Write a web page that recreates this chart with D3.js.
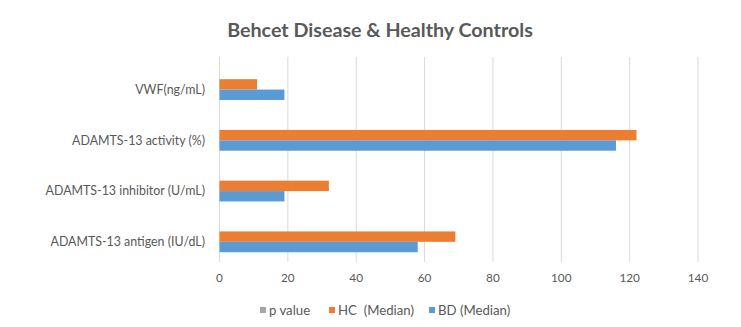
<!DOCTYPE html>
<html><head><meta charset="utf-8">
<script src="https://cdn.jsdelivr.net/npm/d3@7"></script>
<style>body{margin:0;background:#fff;} svg{display:block;} text{white-space:pre;}</style>
</head><body>
<svg id="c" width="741" height="327"></svg>
<script>
const categories = ["VWF(ng/mL)", "ADAMTS-13 activity (%)", "ADAMTS-13 inhibitor (U/mL)", "ADAMTS-13 antigen (IU/dL)"];
const seriesNames = ["p value", "HC  (Median)", "BD (Median)"];
const pValue = [0, 0, 0, 0];
const hcMedian = [11, 122, 32, 69];
const bdMedian = [19, 116, 19, 58];
const xTicks = [0, 20, 40, 60, 80, 100, 120, 140];
const title = "Behcet Disease & Healthy Controls";

const colors = ["#A5A5A5", "#ED7D31", "#5B9BD5"];
const seriesValues = [pValue, hcMedian, bdMedian];
const font = "Lato, sans-serif";
const svg = d3.select("#c");

const pLeft = 219.5, pRight = 698, pTop = 59, pBottom = 262;
const x = d3.scaleLinear().domain([0, 140]).range([pLeft, pRight]);
const y0 = d3.scaleBand().domain(categories).range([pTop, pBottom]).padding(0);
const y1 = d3.scaleBand().domain(seriesNames).range([0, y0.bandwidth()]).paddingInner(0).paddingOuter(0.94);

// gridlines
svg.append("g").selectAll("line").data(xTicks).join("line")
  .attr("x1", d => x(d)).attr("x2", d => x(d))
  .attr("y1", pTop - 2).attr("y2", pBottom)
  .attr("stroke", "#D9D9D9").attr("stroke-width", 1);

// bars
categories.forEach((c, i) => {
  seriesNames.forEach((s, j) => {
    const v = seriesValues[j][i];
    svg.append("rect")
      .attr("x", x(0)).attr("y", y0(c) + y1(s))
      .attr("width", Math.max(0, x(v) - x(0)))
      .attr("height", y1.bandwidth())
      .attr("fill", colors[j]);
  });
});

// category labels
svg.append("g").selectAll("text").data(categories).join("text")
  .attr("x", 205).attr("y", d => y0(d) + y1(seriesNames[1]) + y1.bandwidth())
  .attr("dy", "0.35em").attr("text-anchor", "end")
  .attr("font-family", font).attr("font-size", 12.4).attr("fill", "#595959")
  .text(d => d);

// x tick labels
svg.append("g").selectAll("text").data(xTicks).join("text")
  .attr("x", d => x(d)).attr("y", 278).attr("dy", "0.35em").attr("text-anchor", "middle")
  .attr("font-family", font).attr("font-size", 11.8).attr("fill", "#595959")
  .text(d => d);

// title
svg.append("text").attr("x", 380).attr("y", 30).attr("dy", "0.35em").attr("text-anchor", "middle")
  .attr("font-family", font).attr("font-size", 19.7).attr("font-weight", "bold").attr("fill", "#595959")
  .text(title);

// legend
const legendX = [260, 329, 429];
const lg = svg.append("g");
seriesNames.forEach((s, j) => {
  lg.append("rect").attr("x", legendX[j]).attr("y", 307).attr("width", 6).attr("height", 6).attr("fill", colors[j]);
  lg.append("text").attr("x", legendX[j] + 9).attr("y", 310.5).attr("dy", "0.35em")
    .attr("font-family", font).attr("font-size", 13.2).attr("fill", "#595959").text(s);
});
</script>
</body></html>
